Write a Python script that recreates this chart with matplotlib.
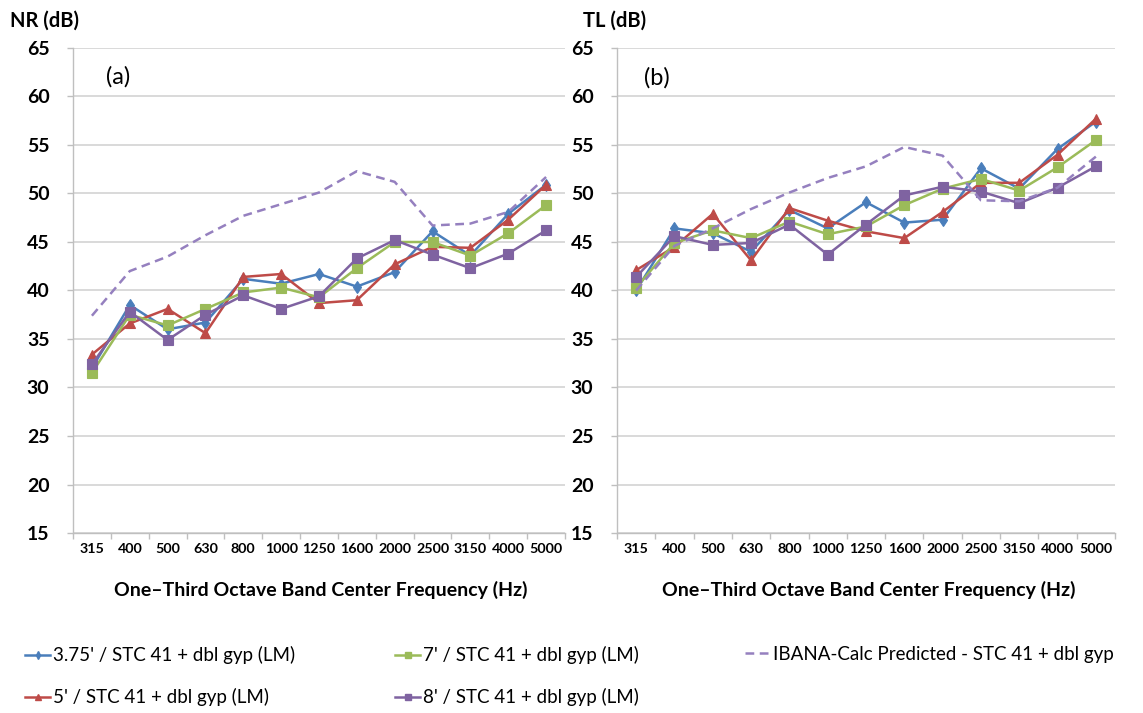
import matplotlib
matplotlib.use("Agg")
import matplotlib.pyplot as plt
from matplotlib.lines import Line2D

plt.rcParams['font.family'] = ['Lato', 'DejaVu Sans']

# One-third octave band centre frequencies (Hz)
freqs = ["315", "400", "500", "630", "800", "1000", "1250",
         "1600", "2000", "2500", "3150", "4000", "5000"]
yticks = [15, 20, 25, 30, 35, 40, 45, 50, 55, 60, 65]

# (a) Noise reduction, NR (dB)
nr_375 = [32.0, 38.5, 36.0, 36.7, 41.2, 40.7, 41.7, 40.4, 41.9, 46.1, 43.6, 47.9, 50.9]
nr_5 = [33.4, 36.6, 38.1, 35.6, 41.4, 41.7, 38.7, 39.0, 42.7, 44.5, 44.4, 47.3, 50.9]
nr_7 = [31.5, 37.5, 36.4, 38.1, 39.8, 40.3, 39.3, 42.3, 45.0, 45.0, 43.6, 45.9, 48.8]
nr_8 = [32.4, 37.8, 34.9, 37.5, 39.5, 38.1, 39.4, 43.3, 45.2, 43.7, 42.3, 43.8, 46.2]
nr_ibana = [37.4, 42.0, 43.5, 45.7, 47.7, 48.9, 50.1, 52.3, 51.2, 46.7, 46.9, 48.1, 51.7]

# (b) Transmission loss, TL (dB)
tl_375 = [40.0, 46.4, 45.9, 44.0, 48.3, 46.4, 49.1, 47.0, 47.3, 52.6, 50.5, 54.6, 57.4]
tl_5 = [42.1, 44.5, 47.9, 43.1, 48.5, 47.2, 46.1, 45.4, 48.1, 51.1, 51.1, 54.0, 57.7]
tl_7 = [40.3, 44.9, 46.2, 45.4, 47.1, 45.8, 46.6, 48.8, 50.5, 51.5, 50.3, 52.7, 55.5]
tl_8 = [41.4, 45.6, 44.7, 44.9, 46.8, 43.7, 46.8, 49.8, 50.7, 50.2, 49.0, 50.6, 52.8]
tl_ibana = [40.0, 44.6, 46.4, 48.4, 50.1, 51.6, 52.8, 54.8, 53.9, 49.3, 49.2, 50.6, 53.8]

labels = ["3.75' / STC 41 + dbl gyp (LM)",
          "5' / STC 41 + dbl gyp (LM)",
          "7' / STC 41 + dbl gyp (LM)",
          "8' / STC 41 + dbl gyp (LM)",
          "IBANA-Calc Predicted - STC 41 + dbl gyp"]

BLUE = "#4A7EBB"
RED = "#BE4B48"
GREEN = "#9BBB59"
PURPLE = "#7F63A1"
DASH = "#9580BF"
GRID = "#D9D9D9"
AXIS = "#BFBFBF"

styles = [
    dict(color=BLUE, marker="d", markersize=6),
    dict(color=RED, marker="^", markersize=7),
    dict(color=GREEN, marker="s", markersize=6.5),
    dict(color=PURPLE, marker="s", markersize=6.5),
    dict(color=DASH, marker=None, linestyle=(0, (3.5, 2.2))),
]

fig = plt.figure(figsize=(11.43, 7.13), dpi=100)
W, H = 1143.0, 713.0


def make_axes(x0, x1, y_top, y_bot):
    return fig.add_axes([x0 / W, 1 - y_bot / H, (x1 - x0) / W, (y_bot - y_top) / H])


ax_a = make_axes(73, 565, 48, 533)
ax_b = make_axes(617, 1115, 48, 533)

x = list(range(len(freqs)))
for ax, series in ((ax_a, (nr_375, nr_5, nr_7, nr_8, nr_ibana)),
                   (ax_b, (tl_375, tl_5, tl_7, tl_8, tl_ibana))):
    for vals, st, lab in zip(series, styles, labels):
        kw = dict(st)
        ls = kw.pop("linestyle", "-")
        ax.plot(x, vals, linestyle=ls, linewidth=1.8, label=lab,
                markeredgewidth=0.8, zorder=3, **kw)

    ax.set_xlim(-0.5, len(freqs) - 0.5)
    ax.set_ylim(15, 65)
    ax.set_yticks(yticks)
    ax.set_yticklabels([str(v) for v in yticks], fontsize=14, fontweight="bold")
    ax.set_xticks(x)
    ax.set_xticklabels(freqs, fontsize=10.3, fontweight="bold")
    ax.set_xticks([i - 0.5 for i in range(len(freqs) + 1)], minor=True)
    ax.tick_params(axis="x", which="major", length=0, pad=7)
    ax.tick_params(axis="x", which="minor", length=4, color=AXIS, width=1)
    ax.tick_params(axis="y", length=4, color=AXIS, width=1, pad=13)
    ax.grid(axis="y", color=GRID, linewidth=1.4)
    ax.set_axisbelow(True)
    for side in ("top", "right"):
        ax.spines[side].set_visible(False)
    for side in ("left", "bottom"):
        ax.spines[side].set_color(AXIS)
        ax.spines[side].set_linewidth(1.0)

# panel tags and axis titles
fig.text(106 / W, 1 - 77 / H, "(a)", fontsize=17, va="center", ha="left")
fig.text(644 / W, 1 - 78 / H, "(b)", fontsize=17, va="center", ha="left")
fig.text(10 / W, 1 - 21 / H, "NR (dB)", fontsize=14.5, fontweight="bold",
         va="center", ha="left")
fig.text(583 / W, 1 - 21 / H, "TL (dB)", fontsize=14.5, fontweight="bold",
         va="center", ha="left")

xlabel = "One\u2013Third Octave Band Center Frequency (Hz)"
fig.text(321 / W, 1 - 590 / H, xlabel, fontsize=14, fontweight="bold",
         va="center", ha="center")
fig.text(869 / W, 1 - 590 / H, xlabel, fontsize=14, fontweight="bold",
         va="center", ha="center")

# shared legend below the panels, one block per column
leg_handles = []
for st, lab in zip(styles, labels):
    kw = dict(st)
    ls = kw.pop("linestyle", "-")
    ms = kw.pop("markersize", None)
    leg_handles.append(Line2D([], [], linestyle=ls, linewidth=1.8,
                              markersize=4 if ms else None,
                              label=lab, **kw))

columns = [([0, 1], 25), ([2, 3], 395), ([4], 745)]
for idx, x_px in columns:
    fig.legend(handles=[leg_handles[i] for i in idx],
               labels=[labels[i] for i in idx],
               loc="upper left", bbox_to_anchor=(x_px / W, 1 - 646 / H),
               borderaxespad=0, borderpad=0,
               frameon=False, fontsize=13.5, handlelength=1.35,
               handletextpad=0.12, labelspacing=1.3)

fig.savefig("out.png", dpi=100)
